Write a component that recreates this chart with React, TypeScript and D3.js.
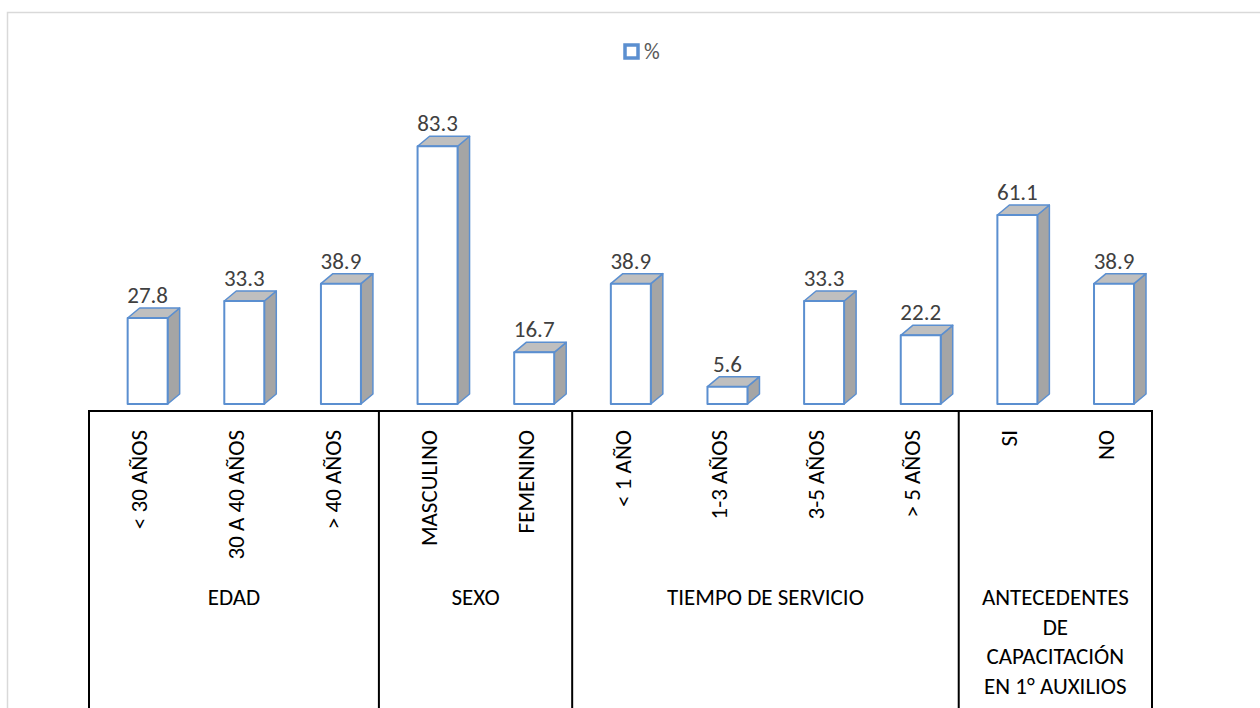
import React from "react";
import * as d3 from "d3";

const categories = ["< 30 AÑOS", "30 A 40 AÑOS", "> 40 AÑOS", "MASCULINO", "FEMENINO", "< 1 AÑO", "1-3 AÑOS", "3-5 AÑOS", "> 5 AÑOS", "SI", "NO"];
const values = [27.8, 33.3, 38.9, 83.3, 16.7, 38.9, 5.6, 33.3, 22.2, 61.1, 38.9];
const groups = [
  { lines: ["EDAD"], count: 3 },
  { lines: ["SEXO"], count: 2 },
  { lines: ["TIEMPO DE SERVICIO"], count: 4 },
  { lines: ["ANTECEDENTES", "DE", "CAPACITACIÓN", "EN 1° AUXILIOS"], count: 2 },
];
const seriesName = "%";

const W = 1260, H = 708;
const FONT = "Carlito, 'Liberation Sans', Arial, sans-serif";
const FS = 23;

export default function App() {
  const x = d3.scaleBand<number>().domain(d3.range(categories.length)).range([89, 1152]).padding(0);
  const y = d3.scaleLinear().domain([0, 100]).range([404, 404 - 309.4]);
  const bw = x.bandwidth();
  const faceW = 40, dx = 12, dy = 10;
  const axisY = 411;

  let start = 0;
  const groupPos = groups.map((g) => {
    const x0 = x(start)!;
    const x1 = start + g.count < categories.length ? x(start + g.count)! : x.range()[1];
    start += g.count;
    return { ...g, x0, x1 };
  });
  const seps = [x.range()[0], ...groupPos.map((g) => g.x1)];

  return (
    <svg width={W} height={H} style={{ position: "absolute", left: 0, top: 0, background: "#fff" }} fontFamily={FONT}>
      <rect x={7.5} y={12.5} width={W} height={H} fill="#fff" stroke="#d9d9d9" strokeWidth={1.5} />
      {/* legend */}
      <rect x={625} y={45} width={13} height={13} fill="#fff" stroke="#5B8FD0" strokeWidth={3.5} />
      <text x={644} y={59} fontSize={22} fill="#595959">{seriesName}</text>
      {/* bars */}
      {values.map((v, i) => {
        const fx = x(i)! + bw * 0.4;
        const top = y(v);
        const bot = y(0);
        const front = `M${fx},${top}L${fx + faceW},${top}L${fx + faceW},${bot}L${fx},${bot}Z`;
        const topFace = `M${fx},${top}L${fx + dx},${top - dy}L${fx + faceW + dx},${top - dy}L${fx + faceW},${top}Z`;
        const side = `M${fx + faceW},${top}L${fx + faceW + dx},${top - dy}L${fx + faceW + dx},${bot - dy}L${fx + faceW},${bot}Z`;
        return (
          <g key={i}>
            <path d={side} fill="#A5A5A5" stroke="#5B8FD0" strokeWidth={1.5} strokeLinejoin="round" />
            <path d={topFace} fill="#BFBFBF" stroke="#5B8FD0" strokeWidth={1.5} strokeLinejoin="round" />
            <path d={front} fill="#fff" stroke="#5B8FD0" strokeWidth={2} strokeLinejoin="round" />
            <text x={fx + faceW / 2} y={top - dy - 5} textAnchor="middle" fontSize={FS} fill="#404040">
              {v.toFixed(1)}
            </text>
          </g>
        );
      })}
      {/* axis */}
      <line x1={x.range()[0] - 1} x2={x.range()[1] + 1} y1={axisY} y2={axisY} stroke="#000" strokeWidth={2} />
      {seps.map((sx, i) => (
        <line key={i} x1={sx} x2={sx} y1={axisY} y2={H + 5} stroke="#000" strokeWidth={2} />
      ))}
      {categories.map((c, i) => {
        const cx = x(i)! + bw / 2 + 2;
        return (
          <text key={i} transform={`translate(${cx},430) rotate(-90)`} textAnchor="end" dy="0.35em" fontSize={FS} fill="#000">
            {c}
          </text>
        );
      })}
      {groupPos.map((g, gi) => (
        <text key={gi} textAnchor="middle" fontSize={FS} fill="#000">
          {g.lines.map((l, li) => (
            <tspan key={li} x={(g.x0 + g.x1) / 2} y={605 + li * 29.7}>{l}</tspan>
          ))}
        </text>
      ))}
    </svg>
  );
}
